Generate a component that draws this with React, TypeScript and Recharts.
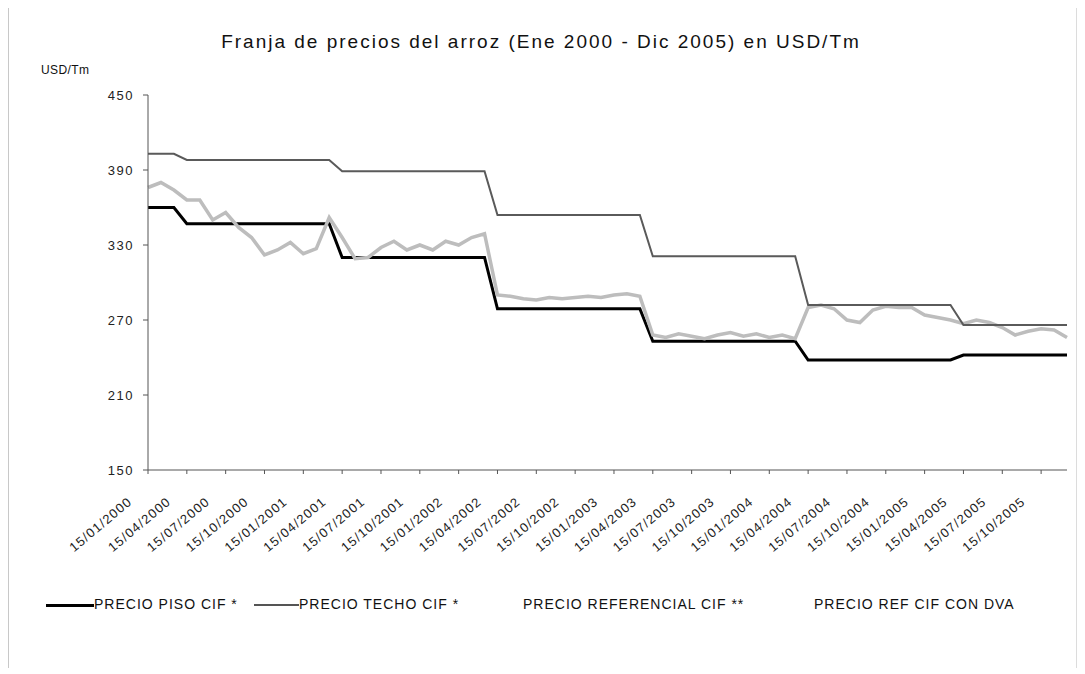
import { LineChart, Line, XAxis, YAxis } from 'recharts';

const DATES = [
  '15/01/2000', '15/02/2000', '15/03/2000', '15/04/2000', '15/05/2000', '15/06/2000',
  '15/07/2000', '15/08/2000', '15/09/2000', '15/10/2000', '15/11/2000', '15/12/2000',
  '15/01/2001', '15/02/2001', '15/03/2001', '15/04/2001', '15/05/2001', '15/06/2001',
  '15/07/2001', '15/08/2001', '15/09/2001', '15/10/2001', '15/11/2001', '15/12/2001',
  '15/01/2002', '15/02/2002', '15/03/2002', '15/04/2002', '15/05/2002', '15/06/2002',
  '15/07/2002', '15/08/2002', '15/09/2002', '15/10/2002', '15/11/2002', '15/12/2002',
  '15/01/2003', '15/02/2003', '15/03/2003', '15/04/2003', '15/05/2003', '15/06/2003',
  '15/07/2003', '15/08/2003', '15/09/2003', '15/10/2003', '15/11/2003', '15/12/2003',
  '15/01/2004', '15/02/2004', '15/03/2004', '15/04/2004', '15/05/2004', '15/06/2004',
  '15/07/2004', '15/08/2004', '15/09/2004', '15/10/2004', '15/11/2004', '15/12/2004',
  '15/01/2005', '15/02/2005', '15/03/2005', '15/04/2005', '15/05/2005', '15/06/2005',
  '15/07/2005', '15/08/2005', '15/09/2005', '15/10/2005', '15/11/2005', '15/12/2005',
];

// precio piso CIF (USD/Tm)
const PISO = [
  360, 360, 360, 347, 347, 347, 347, 347, 347, 347, 347, 347,
  347, 347, 347, 320, 320, 320, 320, 320, 320, 320, 320, 320,
  320, 320, 320, 279, 279, 279, 279, 279, 279, 279, 279, 279,
  279, 279, 279, 253, 253, 253, 253, 253, 253, 253, 253, 253,
  253, 253, 253, 238, 238, 238, 238, 238, 238, 238, 238, 238,
  238, 238, 238, 242, 242, 242, 242, 242, 242, 242, 242, 242,
];

// precio techo CIF
const TECHO = [
  403, 403, 403, 398, 398, 398, 398, 398, 398, 398, 398, 398,
  398, 398, 398, 389, 389, 389, 389, 389, 389, 389, 389, 389,
  389, 389, 389, 354, 354, 354, 354, 354, 354, 354, 354, 354,
  354, 354, 354, 321, 321, 321, 321, 321, 321, 321, 321, 321,
  321, 321, 321, 282, 282, 282, 282, 282, 282, 282, 282, 282,
  282, 282, 282, 266, 266, 266, 266, 266, 266, 266, 266, 266,
];

// precio referencial CIF
const REFERENCIAL = [
  376, 380, 374, 366, 366, 350, 356, 344, 336, 322, 326, 332,
  323, 327, 352, 336, 319, 320, 328, 333, 326, 330, 326, 333,
  330, 336, 339, 290, 289, 287, 286, 288, 287, 288, 289, 288,
  290, 291, 289, 258, 256, 259, 257, 255, 258, 260, 257, 259,
  256, 258, 255, 280, 282, 279, 270, 268, 278, 281, 280, 280,
  274, 272, 270, 267, 270, 268, 264, 258, 261, 263, 262, 256,
];

const Y_TICKS = [150, 210, 270, 330, 390, 450];

const LEGEND = [
  { label: 'PRECIO PISO CIF *', color: '#000', width: 3, lineX: 37, lineW: 48, textX: 85 },
  { label: 'PRECIO TECHO CIF *', color: '#555', width: 2, lineX: 245, lineW: 45, textX: 290 },
  { label: 'PRECIO REFERENCIAL CIF **', color: 'transparent', width: 0, lineX: 470, lineW: 0, textX: 514 },
  { label: 'PRECIO REF CIF CON DVA', color: 'transparent', width: 0, lineX: 760, lineW: 0, textX: 805 },
];

const FONT = '"Liberation Sans", Arial, sans-serif';

const data = DATES.map((date, i) => ({
  date,
  piso: PISO[i],
  techo: TECHO[i],
  referencial: REFERENCIAL[i],
}));

function DateTick({ x, y, payload }: any) {
  return (
    <g transform={`translate(${x},${y})`}>
      <text
        x={-15}
        y={27}
        textAnchor="end"
        transform="rotate(-40, -15, 27)"
        fontSize={13}
        letterSpacing={1.2}
        fill="#222"
        fontFamily={FONT}
      >
        {payload.value}
      </text>
    </g>
  );
}

export default function App() {
  return (
    <div
      style={{
        position: 'relative',
        width: 1069,
        height: 660,
        fontFamily: FONT,
        background: '#fff',
        borderLeft: '1px solid #c8c8c8',
        borderRight: '1px solid #dcdcdc',
        boxSizing: 'border-box',
      }}
    >
      <div
        style={{
          position: 'absolute',
          top: 23,
          left: 0,
          width: 1064,
          textAlign: 'center',
          fontSize: 19,
          letterSpacing: 2,
          color: '#111',
        }}
      >
        Franja de precios del arroz (Ene 2000 - Dic 2005) en USD/Tm
      </div>
      <div
        style={{
          position: 'absolute',
          top: 55,
          left: 32,
          fontSize: 12,
          letterSpacing: 0.4,
          color: '#111',
        }}
      >
        USD/Tm
      </div>

      <LineChart
        width={1069}
        height={560}
        data={data}
        margin={{ top: 87, right: 11, bottom: 28, left: -1 }}
      >
        <XAxis
          dataKey="date"
          interval={2}
          height={70}
          tickSize={4}
          stroke="#555"
          tick={<DateTick />}
          padding={{ left: 0, right: 0 }}
        />
        <YAxis
          width={140}
          domain={[150, 450]}
          ticks={Y_TICKS}
          tickSize={5}
          tickMargin={9}
          stroke="#555"
          tick={{ fontSize: 13, fill: '#222', fontFamily: FONT, letterSpacing: 1.5 }}
        />
        <Line
          dataKey="piso"
          stroke="#000"
          strokeWidth={3}
          dot={false}
          isAnimationActive={false}
          type="linear"
        />
        <Line
          dataKey="referencial"
          stroke="#bdbdbd"
          strokeWidth={3.5}
          dot={false}
          isAnimationActive={false}
          type="linear"
        />
        <Line
          dataKey="techo"
          stroke="#5a5a5a"
          strokeWidth={2}
          dot={false}
          isAnimationActive={false}
          type="linear"
        />
      </LineChart>

      {LEGEND.map((item) => (
        <div key={item.label}>
          {item.lineW > 0 && (
            <div
              style={{
                position: 'absolute',
                left: item.lineX,
                top: 597 - item.width / 2,
                width: item.lineW,
                height: item.width,
                background: item.color,
              }}
            />
          )}
          <div
            style={{
              position: 'absolute',
              left: item.textX,
              top: 588,
              fontSize: 14,
              letterSpacing: 1,
              color: '#111',
              whiteSpace: 'nowrap',
            }}
          >
            {item.label}
          </div>
        </div>
      ))}
    </div>
  );
}
